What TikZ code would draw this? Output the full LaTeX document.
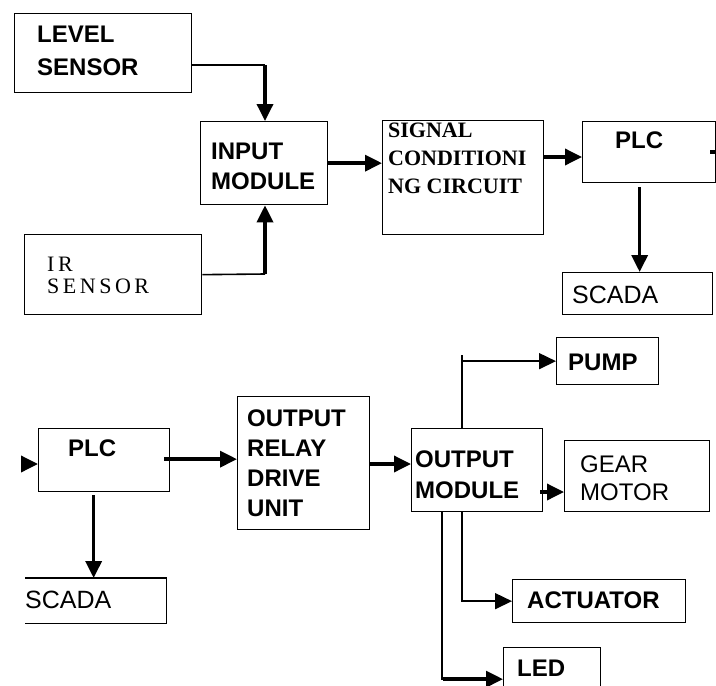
\documentclass[tikz,border=0pt]{standalone}
\usepackage{fontspec}
\setmainfont{Liberation Sans}
\newfontfamily\serifbold{Liberation Serif}
\newfontfamily\serifwide{Liberation Serif}[LetterSpace=16]
\usetikzlibrary{calc,arrows.meta}

\begin{document}
\begin{tikzpicture}[x = 1pt, y = -1pt,
    blk/.style = {draw, line width = 1.3pt, anchor = north west, inner sep = 0pt},
    lab/.style = {anchor = base west, align = left, inner sep = 0pt, font = \bfseries\fontsize{24}{30}\selectfont},
    labr/.style = {lab, font = \fontsize{25}{30}\selectfont},
    ln/.style = {line width = 1.6pt},
    thk/.style = {line width = 3.5pt},
    arr/.style = {-{Triangle[length = 17pt, width = 16pt]}}]
    \useasboundingbox (0,0) rectangle (716,686);
    % input side
    \node[blk, minimum width = 177pt, minimum height = 79pt] (lvl) at (14,13) {};
    \node[blk, minimum width = 127pt, minimum height = 83pt] (inp) at (200,121) {};
    \node[blk, minimum width = 177pt, minimum height = 80pt] (ir) at (24,234) {};
    \node[blk, minimum width = 161pt, minimum height = 114pt] (sig) at (382,120) {};
    \node[blk, minimum width = 133pt, minimum height = 61pt] (plca) at (582,121) {};
    \node[blk, minimum width = 150pt, minimum height = 42pt] (scda) at (562,272) {};
    % texts (base = last line)
    \node[lab, font = \bfseries\fontsize{24}{33}\selectfont] (lvltxt) at (37,75) {LEVEL\\SENSOR};
    \node[lab] (inptxt) at (211,189) {INPUT\\MODULE};
    \node[lab, font = \serifwide\fontsize{22}{22}\selectfont] (irtxt) at (47,293) {IR\\SENSOR};
    \node[lab, font = \serifbold\bfseries\fontsize{22}{28}\selectfont] (sigtxt) at (388,193) {SIGNAL\\CONDITIONI\\NG CIRCUIT};
    \node[lab] (plcatxt) at (615,148) {PLC};
    \node[labr] (scdatxt) at (572,303) {SCADA};
    % level sensor to input
    \coordinate (ja) at (265,65);
    \path[draw, ln](ja -| lvl.east)to(ja);
    \path[draw, thk, arr](ja)to(ja |- inp.north);
    % ir sensor to input
    \coordinate (jb) at (265,274);
    \path[draw, ln](ir.east)to(jb);
    \path[draw, thk, arr](jb)to(jb |- inp.south);
    % input to signal
    \path[draw, thk, arr](inp.east)to(inp.east -| sig.west);
    % signal to plc
    \coordinate (jc) at (582,157);
    \path[draw, thk, arr](jc -| sig.east)to(jc);
    % plc to scada
    \path[draw, thk, arr]($(plca.south -| scda.north)+(2,4)$)to($(scda.north)+(2,0)$);
    \coordinate (outa) at (733,152);
    \path[draw, thk, arr]($(plca.east |- outa)+(-6,0)$)to(outa);

    % output side
    \node[blk, minimum width = 131pt, minimum height = 63pt] (plcb) at (38,428) {};
    \node[blk, draw = none, minimum width = 140pt, minimum height = 44pt] (scdb) at (25,578) {};
    \path[draw, line width = 1.3pt](scdb.north west)--(scdb.north east)--(scdb.south east)--(scdb.south west);
    \node[blk, minimum width = 132pt, minimum height = 133pt] (rly) at (237,396) {};
    \node[blk, minimum width = 131pt, minimum height = 83pt] (om) at (411,428) {};
    \node[blk, minimum width = 102pt, minimum height = 47pt] (pump) at (556,337) {};
    \node[blk, minimum width = 145pt, minimum height = 71pt] (gear) at (564,440) {};
    \node[blk, minimum width = 173pt, minimum height = 43pt] (act) at (512,579) {};
    \node[blk, minimum width = 97pt, minimum height = 63pt] (led) at (503,647) {};
    % texts
    \node[lab] (plcbtxt) at (68,456) {PLC};
    \node[labr] (scdbtxt) at (25,608) {SCADA};
    \node[lab] (rlytxt) at (247,516) {OUTPUT\\RELAY\\DRIVE\\UNIT};
    \node[lab, font = \bfseries\fontsize{24}{31}\selectfont] (omtxt) at (415,498) {OUTPUT\\MODULE};
    \node[lab] (pumptxt) at (568,370) {PUMP};
    \node[labr, font = \fontsize{24}{28}\selectfont] (geartxt) at (580,500) {GEAR\\MOTOR};
    \node[lab] (acttxt) at (527,608) {ACTUATOR};
    \node[lab] (ledtxt) at (517,676) {LED};
    % into plc
    \coordinate (inb) at (24,464);
    \path[draw, thk, arr](inb)to(inb -| plcb.west);
    % plc to relay unit
    \path[draw, thk, arr]($(plcb.east)+(-6,-1)$)to($(plcb.east -| rly.west)+(0,-1)$);
    % plc to scada
    \path[draw, thk, arr]($(plcb.south -| scdb.north)+(-2,3)$)to($(scdb.north)+(-2,0)$);
    % relay unit to output module
    \coordinate (jd) at (411,464);
    \path[draw, thk, arr](jd -| rly.east)to(jd);
    % output module to loads
    \coordinate (je) at (462,0);
    \coordinate (jf) at (442,0);
    \path[draw, ln](je |- om.north)to($(je |- pump.west)+(0,-6)$);
    \path[draw, ln, arr](je |- pump.west)to(pump.west);
    \coordinate (jg) at (564,492);
    \path[draw, thk, arr]($(jg -| om.east)+(-3,0)$)to(jg);
    \path[draw, ln, arr](je |- om.south)|-(act.west);
    \path[draw, ln](jf |- om.south)|-($(led.west)+(-20,0)$);
    \path[draw, thk, arr]($(led.west)+(-60,0)$)to(led.west);
\end{tikzpicture}
\end{document}
